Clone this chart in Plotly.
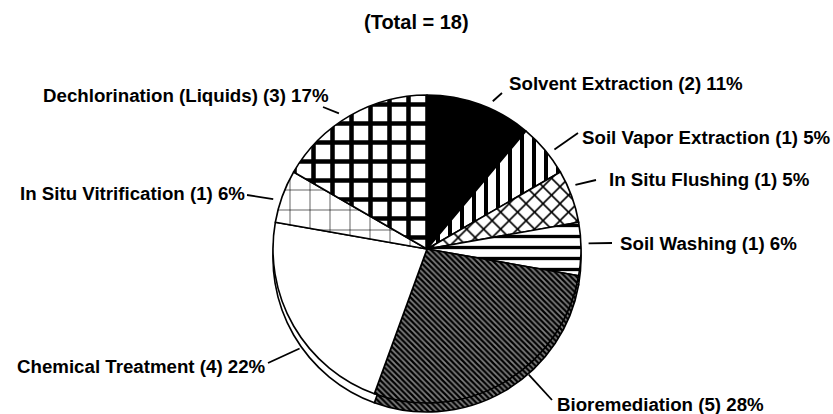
import numpy as np
import plotly.graph_objects as go

# ---- data ----
categories = ["Solvent Extraction", "Soil Vapor Extraction", "In Situ Flushing",
              "Soil Washing", "Bioremediation", "Chemical Treatment",
              "In Situ Vitrification", "Dechlorination (Liquids)"]
counts = [2, 1, 1, 1, 5, 4, 1, 3]
percent_labels = ["11%", "5%", "5%", "6%", "28%", "22%", "6%", "17%"]
title_text = "(Total = 18)"

# ---- styles ----
fill_colors = ["black", "white", "white", "white", "#8c8c8c", "white", "white", "white"]
pat_shapes = ["", "|", "x", "-", "\\", "", "+", "+"]
pat_sizes = [8, 12, 12, 11, 4, 8, 20, 19]
pat_solid = [0.3, 0.33, 0.25, 0.3, 0.55, 0.3, 0.06, 0.42]
pat_bg = ["black", "white", "white", "white", "#808080", "white", "white", "white"]

W, H = 833, 414
CX, CY, R = 427, 249, 154     # pie centre / radius in pixels
DEPTH = 9                     # 3-D side thickness in pixels

# leader anchor within each slice (fraction), leader tail (px), label text placement
anchor_frac = [0.6, 0.6, 0.33, 0.4, 0.41, 0.4, 0.4, 0.45]
leader_tail = [(502, 93), (578, 133), (596, 180), (612, 243),
               (552, 400), (268, 363), (247, 195), (323, 107)]
label_xy = [(507, 83), (580, 137), (607, 180), (618, 243),
            (555, 404), (268, 366), (247, 193), (331, 95)]
label_anchor = ["left", "left", "left", "left", "left", "right", "right", "right"]

font_family = "Liberation Sans, Arial, sans-serif"


def domain(offset):
    return dict(x=[(CX - R) / W, (CX + R) / W],
                y=[(H - CY - offset - R) / H, (H - CY - offset + R) / H])


def pie_trace(offset):
    return go.Pie(
        labels=categories, values=counts, sort=False, direction="clockwise",
        rotation=0, textinfo="none", hoverinfo="skip", showlegend=False,
        domain=domain(offset),
        marker=dict(colors=fill_colors,
                    line=dict(color="black", width=1.6),
                    pattern=dict(shape=pat_shapes, size=pat_sizes,
                                 solidity=pat_solid, fgcolor="black",
                                 bgcolor=pat_bg, fillmode="replace")),
    )


fig = go.Figure()
fig.add_trace(pie_trace(DEPTH))
fig.add_trace(pie_trace(0))

total = float(np.sum(counts))
cum = np.concatenate([[0], np.cumsum(counts)]) / total * 360.0
annotations = []
shapes = []
for i, cat in enumerate(categories):
    ang = np.deg2rad(cum[i] + anchor_frac[i] * (cum[i + 1] - cum[i]))
    hx = CX + 1.05 * R * np.sin(ang)
    hy = CY - 1.05 * R * np.cos(ang)
    tx, ty = leader_tail[i]
    shapes.append(dict(type="line", xref="paper", yref="paper",
                       x0=hx / W, y0=1 - hy / H, x1=tx / W, y1=1 - ty / H,
                       line=dict(color="black", width=1.8)))
    lx, ly = label_xy[i]
    annotations.append(dict(
        x=lx / W, y=1 - ly / H, xref="paper", yref="paper",
        xanchor=label_anchor[i], yanchor="middle", showarrow=False,
        text=f"{cat} ({counts[i]}) {percent_labels[i]}",
        font=dict(family=font_family, size=18.7, color="black", weight="bold"),
    ))

annotations.append(dict(
    x=416 / W, y=1 - 22 / H, xref="paper", yref="paper", showarrow=False,
    xanchor="center", yanchor="middle", text=title_text,
    font=dict(family=font_family, size=20, color="black", weight="bold"),
))

fig.update_layout(
    width=W, height=H, margin=dict(l=0, r=0, t=0, b=0),
    paper_bgcolor="white", plot_bgcolor="white",
    annotations=annotations, shapes=shapes,
)

fig.write_html("out.html", config={"displayModeBar": False},
               post_script="document.body.style.margin='0px';")
